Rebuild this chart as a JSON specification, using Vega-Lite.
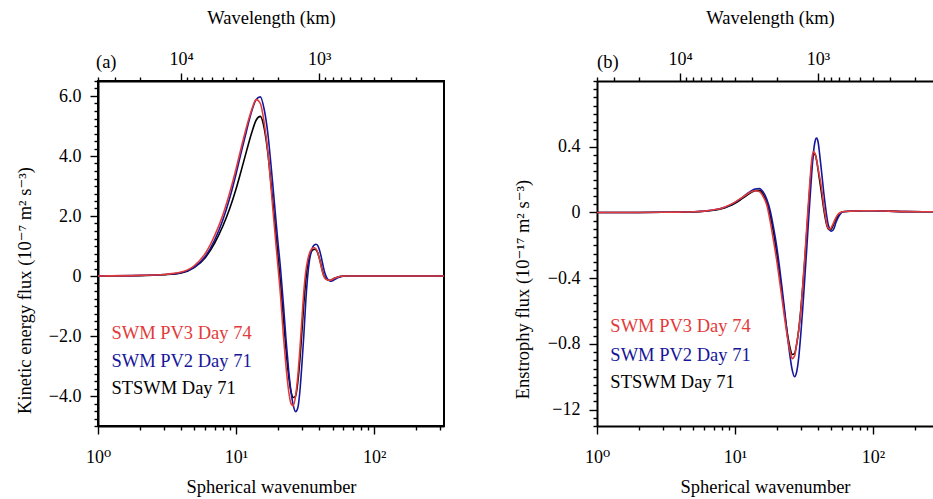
{
  "$schema": "https://vega.github.io/schema/vega-lite/v6.json",
  "padding": {"left": 14, "top": 7, "right": 0, "bottom": 0},
  "spacing": 68,
  "datasets": {
    "ke": [
      {"n": 1, "pv3": 0, "pv2": 0, "st": 0},
      {"n": 2, "pv3": 0.02, "pv2": 0.02, "st": 0.01},
      {"n": 3, "pv3": 0.05, "pv2": 0.05, "st": 0.04},
      {"n": 4, "pv3": 0.13, "pv2": 0.11, "st": 0.1},
      {"n": 5, "pv3": 0.35, "pv2": 0.3, "st": 0.29},
      {"n": 6, "pv3": 0.76, "pv2": 0.66, "st": 0.62},
      {"n": 7, "pv3": 1.35, "pv2": 1.2, "st": 1.1},
      {"n": 8, "pv3": 2.02, "pv2": 1.85, "st": 1.65},
      {"n": 9, "pv3": 2.78, "pv2": 2.6, "st": 2.25},
      {"n": 10, "pv3": 3.57, "pv2": 3.4, "st": 2.9},
      {"n": 11, "pv3": 4.35, "pv2": 4.2, "st": 3.58},
      {"n": 12, "pv3": 5.02, "pv2": 4.9, "st": 4.22},
      {"n": 13, "pv3": 5.55, "pv2": 5.5, "st": 4.78},
      {"n": 14, "pv3": 5.88, "pv2": 5.88, "st": 5.2},
      {"n": 15, "pv3": 5.75, "pv2": 5.97, "st": 5.32},
      {"n": 16, "pv3": 5.1, "pv2": 5.55, "st": 4.92},
      {"n": 17, "pv3": 4.15, "pv2": 4.75, "st": 4.1},
      {"n": 18, "pv3": 2.85, "pv2": 3.6, "st": 3.0},
      {"n": 19, "pv3": 1.6, "pv2": 2.4, "st": 1.9},
      {"n": 20, "pv3": 0.45, "pv2": 1.25, "st": 0.8},
      {"n": 21, "pv3": -0.65, "pv2": 0.25, "st": -0.25},
      {"n": 22, "pv3": -1.95, "pv2": -0.9, "st": -1.35},
      {"n": 23, "pv3": -3.0, "pv2": -2.1, "st": -2.45},
      {"n": 24, "pv3": -3.8, "pv2": -3.1, "st": -3.3},
      {"n": 25, "pv3": -4.25, "pv2": -3.85, "st": -3.85},
      {"n": 26, "pv3": -4.32, "pv2": -4.32, "st": -4.05},
      {"n": 27, "pv3": -4.0, "pv2": -4.52, "st": -4.0},
      {"n": 28, "pv3": -3.35, "pv2": -4.4, "st": -3.55},
      {"n": 29, "pv3": -2.45, "pv2": -3.85, "st": -2.8},
      {"n": 30, "pv3": -1.45, "pv2": -2.95, "st": -1.85},
      {"n": 31, "pv3": -0.5, "pv2": -1.95, "st": -0.9},
      {"n": 32, "pv3": 0.15, "pv2": -0.85, "st": -0.15},
      {"n": 33, "pv3": 0.52, "pv2": -0.02, "st": 0.38},
      {"n": 34, "pv3": 0.75, "pv2": 0.5, "st": 0.64},
      {"n": 35, "pv3": 0.88, "pv2": 0.8, "st": 0.8},
      {"n": 36, "pv3": 0.93, "pv2": 0.97, "st": 0.87},
      {"n": 37, "pv3": 0.94, "pv2": 1.04, "st": 0.89},
      {"n": 38, "pv3": 0.9, "pv2": 1.06, "st": 0.87},
      {"n": 39, "pv3": 0.78, "pv2": 1.02, "st": 0.78},
      {"n": 40, "pv3": 0.6, "pv2": 0.9, "st": 0.62},
      {"n": 41, "pv3": 0.4, "pv2": 0.72, "st": 0.43},
      {"n": 42, "pv3": 0.18, "pv2": 0.5, "st": 0.22},
      {"n": 43, "pv3": 0.02, "pv2": 0.28, "st": 0.05},
      {"n": 44, "pv3": -0.07, "pv2": 0.1, "st": -0.05},
      {"n": 45, "pv3": -0.11, "pv2": -0.02, "st": -0.1},
      {"n": 46, "pv3": -0.13, "pv2": -0.1, "st": -0.13},
      {"n": 47, "pv3": -0.14, "pv2": -0.15, "st": -0.14},
      {"n": 48, "pv3": -0.14, "pv2": -0.17, "st": -0.14},
      {"n": 49, "pv3": -0.13, "pv2": -0.17, "st": -0.13},
      {"n": 50, "pv3": -0.11, "pv2": -0.16, "st": -0.11},
      {"n": 52, "pv3": -0.07, "pv2": -0.11, "st": -0.07},
      {"n": 55, "pv3": -0.03, "pv2": -0.05, "st": -0.03},
      {"n": 58, "pv3": -0.01, "pv2": -0.02, "st": -0.01},
      {"n": 62, "pv3": 0, "pv2": 0, "st": 0},
      {"n": 70, "pv3": 0, "pv2": 0, "st": 0},
      {"n": 100, "pv3": 0, "pv2": 0, "st": 0},
      {"n": 200, "pv3": 0, "pv2": 0, "st": 0},
      {"n": 330, "pv3": 0, "pv2": 0, "st": 0}
    ],
    "en": [
      {"n": 1, "pv3": 0, "pv2": 0, "st": 0},
      {"n": 2, "pv3": 0, "pv2": 0, "st": 0},
      {"n": 3, "pv3": 0.001, "pv2": 0.001, "st": 0.001},
      {"n": 4, "pv3": 0.002, "pv2": 0.002, "st": 0.002},
      {"n": 5, "pv3": 0.004, "pv2": 0.004, "st": 0.003},
      {"n": 6, "pv3": 0.008, "pv2": 0.008, "st": 0.007},
      {"n": 7, "pv3": 0.016, "pv2": 0.015, "st": 0.013},
      {"n": 8, "pv3": 0.026, "pv2": 0.025, "st": 0.022},
      {"n": 9, "pv3": 0.043, "pv2": 0.041, "st": 0.037},
      {"n": 10, "pv3": 0.063, "pv2": 0.061, "st": 0.056},
      {"n": 11, "pv3": 0.085, "pv2": 0.084, "st": 0.078},
      {"n": 12, "pv3": 0.106, "pv2": 0.108, "st": 0.1},
      {"n": 13, "pv3": 0.124, "pv2": 0.13, "st": 0.12},
      {"n": 14, "pv3": 0.132, "pv2": 0.143, "st": 0.133},
      {"n": 15, "pv3": 0.127, "pv2": 0.146, "st": 0.134},
      {"n": 16, "pv3": 0.097, "pv2": 0.125, "st": 0.11},
      {"n": 17, "pv3": 0.045, "pv2": 0.08, "st": 0.06},
      {"n": 18, "pv3": -0.055, "pv2": 0.01, "st": -0.02},
      {"n": 19, "pv3": -0.17, "pv2": -0.09, "st": -0.12},
      {"n": 20, "pv3": -0.285, "pv2": -0.2, "st": -0.24},
      {"n": 21, "pv3": -0.41, "pv2": -0.33, "st": -0.37},
      {"n": 22, "pv3": -0.535, "pv2": -0.47, "st": -0.5},
      {"n": 23, "pv3": -0.655, "pv2": -0.61, "st": -0.63},
      {"n": 24, "pv3": -0.76, "pv2": -0.75, "st": -0.74},
      {"n": 25, "pv3": -0.84, "pv2": -0.87, "st": -0.82},
      {"n": 26, "pv3": -0.89, "pv2": -0.96, "st": -0.865},
      {"n": 27, "pv3": -0.875, "pv2": -1.0, "st": -0.86},
      {"n": 28, "pv3": -0.8, "pv2": -0.97, "st": -0.8},
      {"n": 29, "pv3": -0.715, "pv2": -0.88, "st": -0.71},
      {"n": 30, "pv3": -0.6, "pv2": -0.74, "st": -0.59},
      {"n": 31, "pv3": -0.44, "pv2": -0.58, "st": -0.45},
      {"n": 32, "pv3": -0.28, "pv2": -0.41, "st": -0.3},
      {"n": 33, "pv3": -0.11, "pv2": -0.24, "st": -0.14},
      {"n": 34, "pv3": 0.05, "pv2": -0.07, "st": 0.02},
      {"n": 35, "pv3": 0.2, "pv2": 0.09, "st": 0.17},
      {"n": 36, "pv3": 0.32, "pv2": 0.24, "st": 0.29},
      {"n": 37, "pv3": 0.37, "pv2": 0.36, "st": 0.35},
      {"n": 38, "pv3": 0.36, "pv2": 0.43, "st": 0.355},
      {"n": 39, "pv3": 0.32, "pv2": 0.452, "st": 0.32},
      {"n": 40, "pv3": 0.27, "pv2": 0.43, "st": 0.26},
      {"n": 41, "pv3": 0.22, "pv2": 0.36, "st": 0.2},
      {"n": 42, "pv3": 0.17, "pv2": 0.28, "st": 0.14},
      {"n": 43, "pv3": 0.11, "pv2": 0.2, "st": 0.08},
      {"n": 44, "pv3": 0.04, "pv2": 0.12, "st": 0.02},
      {"n": 45, "pv3": -0.01, "pv2": 0.05, "st": -0.03},
      {"n": 46, "pv3": -0.06, "pv2": -0.01, "st": -0.07},
      {"n": 47, "pv3": -0.09, "pv2": -0.06, "st": -0.095},
      {"n": 48, "pv3": -0.1, "pv2": -0.09, "st": -0.105},
      {"n": 49, "pv3": -0.1, "pv2": -0.11, "st": -0.105},
      {"n": 50, "pv3": -0.09, "pv2": -0.115, "st": -0.1},
      {"n": 52, "pv3": -0.06, "pv2": -0.1, "st": -0.07},
      {"n": 54, "pv3": -0.03, "pv2": -0.06, "st": -0.04},
      {"n": 56, "pv3": -0.01, "pv2": -0.03, "st": -0.02},
      {"n": 58, "pv3": 0, "pv2": -0.01, "st": -0.005},
      {"n": 60, "pv3": 0.004, "pv2": 0.003, "st": 0.004},
      {"n": 70, "pv3": 0.008, "pv2": 0.008, "st": 0.008},
      {"n": 85, "pv3": 0.01, "pv2": 0.01, "st": 0.01},
      {"n": 100, "pv3": 0.01, "pv2": 0.01, "st": 0.01},
      {"n": 130, "pv3": 0.008, "pv2": 0.008, "st": 0.008},
      {"n": 170, "pv3": 0.005, "pv2": 0.005, "st": 0.005},
      {"n": 230, "pv3": 0.004, "pv2": 0.004, "st": 0.004},
      {"n": 330, "pv3": 0.004, "pv2": 0.004, "st": 0.004}
    ]
  },
  "hconcat": [
    {
      "width": 346,
      "height": 345,
      "data": {"name": "ke"},
      "title": {"text": "(a)", "anchor": "start", "frame": "group", "offset": -63, "dx": -2},
      "resolve": {"axis": {"x": "independent", "y": "independent"}},
      "layer": [
        {
          "mark": {"type": "line", "color": "#000000", "strokeWidth": 1.6, "interpolate": "monotone", "clip": true},
          "encoding": {
            "x": {"field": "n", "type": "quantitative", "scale": {"type": "log", "domain": [1, 321], "nice": false},
              "axis": {"orient": "top", "title": "Wavelength (km)", "titlePadding": 23, "labelPadding": 5, "tickSize": 8,
                "domain": true, "domainWidth": 2, "domainColor": "#000000",
                "values": [4, 40],
                "labelExpr": "datum.value == 4 ? '10⁴' : '10³'"}},
            "y": {"field": "st", "type": "quantitative", "scale": {"domain": [-5, 6.5], "nice": false, "zero": false},
              "axis": {"orient": "left", "title": null, "labels": false, "tickSize": 4,
                "values": [-5, -4.75, -4.5, -4.25, -3.75, -3.5, -3.25, -3, -2.75, -2.5, -2.25, -1.75, -1.5, -1.25, -1, -0.75, -0.5, -0.25, 0.25, 0.5, 0.75, 1, 1.25, 1.5, 1.75, 2.25, 2.5, 2.75, 3, 3.25, 3.5, 3.75, 4.25, 4.5, 4.75, 5, 5.25, 5.5, 5.75, 6.25, 6.5]}}
          }
        },
        {
          "mark": {"type": "line", "color": "#16169a", "strokeWidth": 1.6, "interpolate": "monotone", "clip": true},
          "encoding": {
            "x": {"field": "n", "type": "quantitative",
              "axis": {"orient": "bottom", "title": "Spherical wavenumber", "titlePadding": 11, "labelPadding": 14, "tickSize": 8,
                "domain": true, "domainWidth": 2, "domainColor": "#000000",
                "values": [1, 10, 100],
                "labelExpr": "datum.value == 1 ? '10⁰' : datum.value == 10 ? '10¹' : '10²'"}},
            "y": {"field": "pv2", "type": "quantitative",
              "axis": {"orient": "left", "title": "Kinetic energy flux (10⁻⁷ m² s⁻³)", "titleY": 209, "titlePadding": 14, "labelPadding": 9, "tickSize": 8,
                "domain": true, "domainWidth": 2, "domainColor": "#000000",
                "values": [-4, -2, 0, 2, 4, 6],
                "labelExpr": "datum.value == 0 ? '0' : replace(format(datum.value, '.1f'), '-', '−')"}}
          }
        },
        {
          "mark": {"type": "line", "color": "#e23b3b", "strokeWidth": 1.6, "interpolate": "monotone", "clip": true},
          "encoding": {
            "x": {"field": "n", "type": "quantitative",
              "axis": {"orient": "top", "title": null, "labels": false, "tickSize": 4,
                "values": [1, 1.33333, 2, 4.44444, 5, 5.71429, 6.66667, 8, 10, 13.33333, 20, 44.44444, 50, 57.14286, 66.66667, 80, 100, 133.33333, 200]}},
            "y": {"field": "pv3", "type": "quantitative", "axis": null}
          }
        },
        {
          "data": {"values": [{}]},
          "mark": {"type": "text", "align": "left", "baseline": "alphabetic", "color": "#e23b3b"},
          "encoding": {
            "x": {"datum": 1.25, "type": "quantitative",
              "axis": {"orient": "bottom", "title": null, "labels": false, "tickSize": 4,
                "values": [2, 3, 4, 5, 6, 7, 8, 9, 20, 30, 40, 50, 60, 70, 80, 90, 200, 300]}},
            "y": {"datum": -2.1, "type": "quantitative", "axis": null},
            "text": {"value": "SWM PV3 Day 74"}
          }
        },
        {
          "data": {"values": [{}]},
          "mark": {"type": "text", "align": "left", "baseline": "alphabetic", "color": "#16169a"},
          "encoding": {
            "x": {"datum": 1.25, "type": "quantitative", "axis": null},
            "y": {"datum": -3.02, "type": "quantitative", "axis": null},
            "text": {"value": "SWM PV2 Day 71"}
          }
        },
        {
          "data": {"values": [{}]},
          "mark": {"type": "text", "align": "left", "baseline": "alphabetic", "color": "#000000"},
          "encoding": {
            "x": {"datum": 1.25, "type": "quantitative", "axis": null},
            "y": {"datum": -3.94, "type": "quantitative", "axis": null},
            "text": {"value": "STSWM Day 71"}
          }
        }
      ]
    },
    {
      "width": 336,
      "height": 345,
      "data": {"name": "en"},
      "view": {"stroke": null},
      "title": {"text": "(b)", "anchor": "start", "frame": "group", "offset": -63, "dx": 0},
      "resolve": {"axis": {"x": "independent", "y": "independent"}},
      "layer": [
        {
          "mark": {"type": "line", "color": "#000000", "strokeWidth": 1.6, "interpolate": "monotone", "clip": true},
          "encoding": {
            "x": {"field": "n", "type": "quantitative", "scale": {"type": "log", "domain": [1, 272.3], "nice": false},
              "axis": {"orient": "top", "title": "Wavelength (km)", "titleX": 173, "titlePadding": 23, "labelPadding": 5, "tickSize": 8,
                "domain": true, "domainWidth": 2, "domainColor": "#000000",
                "values": [4, 40],
                "labelExpr": "datum.value == 4 ? '10⁴' : '10³'"}},
            "y": {"field": "st", "type": "quantitative", "scale": {"domain": [-1.3, 0.8], "nice": false, "zero": false},
              "axis": {"orient": "left", "title": null, "labels": false, "tickSize": 4,
                "values": [-1.3, -1.25, -1.15, -1.1, -1.05, -1, -0.95, -0.9, -0.85, -0.75, -0.7, -0.65, -0.6, -0.55, -0.5, -0.45, -0.35, -0.3, -0.25, -0.2, -0.15, -0.1, -0.05, 0.05, 0.1, 0.15, 0.2, 0.25, 0.3, 0.35, 0.45, 0.5, 0.55, 0.6, 0.65, 0.7, 0.75, 0.8]}}
          }
        },
        {
          "mark": {"type": "line", "color": "#16169a", "strokeWidth": 1.6, "interpolate": "monotone", "clip": true},
          "encoding": {
            "x": {"field": "n", "type": "quantitative",
              "axis": {"orient": "bottom", "title": "Spherical wavenumber", "titlePadding": 11, "labelPadding": 14, "tickSize": 8,
                "domain": true, "domainWidth": 2, "domainColor": "#000000",
                "values": [1, 10, 100],
                "labelExpr": "datum.value == 1 ? '10⁰' : datum.value == 10 ? '10¹' : '10²'"}},
            "y": {"field": "pv2", "type": "quantitative",
              "axis": {"orient": "left", "title": "Enstrophy flux (10⁻¹⁷ m² s⁻³)", "titleY": 208, "titlePadding": 15, "labelPadding": 9, "tickSize": 8,
                "domain": true, "domainWidth": 2, "domainColor": "#000000",
                "values": [-1.2, -0.8, -0.4, 0, 0.4],
                "labelExpr": "datum.value == 0.4 ? '0.4' : datum.value == 0 ? '0' : datum.value == -0.4 ? '−0.4' : datum.value == -0.8 ? '−0.8' : '−12'"}}
          }
        },
        {
          "mark": {"type": "line", "color": "#e23b3b", "strokeWidth": 1.6, "interpolate": "monotone", "clip": true},
          "encoding": {
            "x": {"field": "n", "type": "quantitative",
              "axis": {"orient": "top", "title": null, "labels": false, "tickSize": 4,
                "values": [1, 1.33333, 2, 4.44444, 5, 5.71429, 6.66667, 8, 10, 13.33333, 20, 44.44444, 50, 57.14286, 66.66667, 80, 100, 133.33333, 200]}},
            "y": {"field": "pv3", "type": "quantitative", "axis": null}
          }
        },
        {
          "data": {"values": [{}]},
          "mark": {"type": "text", "align": "left", "baseline": "alphabetic", "color": "#e23b3b"},
          "encoding": {
            "x": {"datum": 1.25, "type": "quantitative",
              "axis": {"orient": "bottom", "title": null, "labels": false, "tickSize": 4,
                "values": [2, 3, 4, 5, 6, 7, 8, 9, 20, 30, 40, 50, 60, 70, 80, 90, 200]}},
            "y": {"datum": -0.73, "type": "quantitative", "axis": null},
            "text": {"value": "SWM PV3 Day 74"}
          }
        },
        {
          "data": {"values": [{}]},
          "mark": {"type": "text", "align": "left", "baseline": "alphabetic", "color": "#16169a"},
          "encoding": {
            "x": {"datum": 1.25, "type": "quantitative", "axis": null},
            "y": {"datum": -0.902, "type": "quantitative", "axis": null},
            "text": {"value": "SWM PV2 Day 71"}
          }
        },
        {
          "data": {"values": [{}]},
          "mark": {"type": "text", "align": "left", "baseline": "alphabetic", "color": "#000000"},
          "encoding": {
            "x": {"datum": 1.25, "type": "quantitative", "axis": null},
            "y": {"datum": -1.07, "type": "quantitative", "axis": null},
            "text": {"value": "STSWM Day 71"}
          }
        }
      ]
    }
  ],
  "config": {
    "font": "Liberation Serif, Times New Roman, DejaVu Serif, serif",
    "view": {"stroke": "#000000", "strokeWidth": 2},
    "title": {"font": "Liberation Serif, Times New Roman, DejaVu Serif, serif", "fontSize": 18.5, "fontWeight": "normal", "color": "#000000"},
    "axis": {
      "labelFont": "Liberation Serif, Times New Roman, DejaVu Serif, serif", "labelFontSize": 18, "labelColor": "#000000",
      "titleFont": "Liberation Serif, Times New Roman, DejaVu Serif, serif", "titleFontSize": 18.5, "titleFontWeight": "normal", "titleColor": "#000000",
      "ticks": true, "tickColor": "#000000", "tickWidth": 1.4, "tickOpacity": 1, "domain": false, "grid": false,
      "labelFlush": false, "labelOverlap": false, "labelBound": false
    },
    "text": {"font": "Liberation Serif, Times New Roman, DejaVu Serif, serif", "fontSize": 18.5}
  }
}
